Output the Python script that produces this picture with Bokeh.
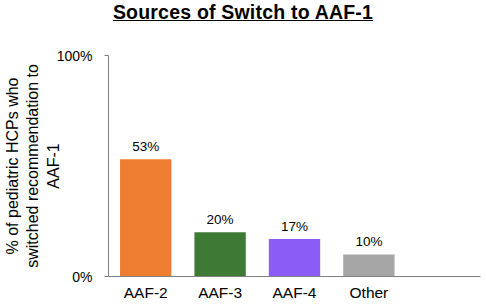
from bokeh.plotting import figure
from bokeh.models import ColumnDataSource, FactorRange, FixedTicker, LabelSet, Div, Range1d
from bokeh.core.properties import value
from bokeh.layouts import column
from bokeh.embed import file_html
from bokeh.resources import INLINE

categories = ["AAF-2", "AAF-3", "AAF-4", "Other"]
values = [53, 20, 17, 10]
colors = ["#ED7D31", "#3E7A36", "#8B5CF6", "#A6A6A6"]
title_text = "Sources of Switch to AAF-1"
y_label = "% of pediatric HCPs who\nswitched recommendation to\nAAF-1"
y_ticks = [0, 100]
y_tick_labels = ["0%", "100%"]

factors = categories + [" "]
src = ColumnDataSource(dict(cat=categories, val=values, col=colors,
                            lab=[f"{v}%" for v in values]))

FONT = "Liberation Sans"

title = Div(text=f"<u><b>{title_text}</b></u>", width=486, height=40, margin=(0, 0, 0, 0),
            styles={"text-align": "center", "font-family": FONT, "font-size": "19.5px",
                    "color": "#000000", "width": "486px", "padding-top": "1px",
                    "line-height": "22px", "letter-spacing": "0.2px"})

p = figure(x_range=FactorRange(*factors, range_padding=0), y_range=Range1d(0, 100),
           width=486, height=265, output_backend="svg", toolbar_location=None,
           min_border_left=108, min_border_right=6, min_border_top=15, min_border_bottom=29,
           margin=(0, 0, 0, 0))
p.vbar(x="cat", top="val", width=0.69, color="col", line_color=None, source=src)

labels = LabelSet(x="cat", y="val", text="lab", source=src, text_align="center",
                  text_baseline="bottom", y_offset=5, text_font=value(FONT),
                  text_font_size="13.5px", text_color="#000000")
p.add_layout(labels)

p.xgrid.visible = False
p.ygrid.visible = False
p.outline_line_color = None

p.yaxis.ticker = FixedTicker(ticks=y_ticks)
p.yaxis.major_label_overrides = {t: l for t, l in zip(y_ticks, y_tick_labels)}
p.yaxis.minor_tick_line_color = None
p.yaxis.major_tick_in = 0
p.yaxis.major_tick_out = 4
p.yaxis.axis_line_color = "#7F7F7F"
p.yaxis.major_tick_line_color = "#7F7F7F"
p.yaxis.major_label_text_font = FONT
p.yaxis.major_label_text_font_size = "14px"
p.yaxis.major_label_text_color = "#000000"
p.yaxis.major_label_standoff = 12
p.yaxis.axis_label = y_label
p.yaxis.axis_label_text_font = FONT
p.yaxis.axis_label_text_font_size = "16px"
p.yaxis.axis_label_text_font_style = "normal"
p.yaxis.axis_label_text_color = "#000000"
p.yaxis.axis_label_standoff = -8

p.xaxis.axis_line_color = "#7F7F7F"
p.xaxis.major_tick_line_color = None
p.xaxis.minor_tick_line_color = None
p.xaxis.major_tick_out = 0
p.xaxis.major_tick_in = 0
p.xaxis.major_label_text_font = FONT
p.xaxis.major_label_text_font_size = "15.5px"
p.xaxis.major_label_text_color = "#000000"
p.xaxis.major_label_standoff = 7

layout = column(title, p, spacing=0, margin=(0, 0, 0, 0))
open("out.html", "w").write(file_html(layout, INLINE))
